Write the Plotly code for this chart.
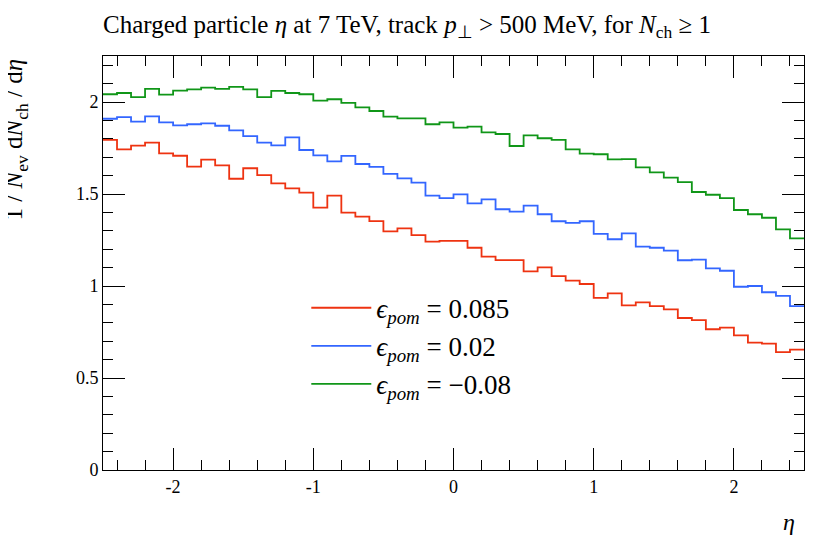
import numpy as np
import plotly.graph_objects as go

edges = np.round(np.arange(-2.5, 2.5001, 0.1), 2)

red = [1.794, 1.743, 1.763, 1.779, 1.721, 1.708, 1.649, 1.687, 1.656, 1.583,
       1.640, 1.603, 1.558, 1.531, 1.507, 1.426, 1.491, 1.399, 1.377, 1.353,
       1.297, 1.313, 1.277, 1.241, 1.245, 1.245, 1.208, 1.160, 1.141, 1.141,
       1.080, 1.101, 1.054, 1.029, 1.011, 0.935, 0.960, 0.895, 0.911, 0.891,
       0.873, 0.826, 0.815, 0.765, 0.774, 0.732, 0.692, 0.687, 0.641, 0.654]
blue = [1.909, 1.918, 1.893, 1.922, 1.889, 1.873, 1.879, 1.884, 1.871, 1.846,
        1.815, 1.779, 1.764, 1.808, 1.739, 1.710, 1.677, 1.707, 1.663, 1.647,
        1.609, 1.585, 1.562, 1.491, 1.478, 1.498, 1.449, 1.471, 1.417, 1.404,
        1.437, 1.390, 1.352, 1.343, 1.352, 1.283, 1.254, 1.286, 1.214, 1.208,
        1.192, 1.140, 1.143, 1.096, 1.083, 0.996, 1.000, 0.966, 0.946, 0.891]
green = [2.042, 2.049, 2.027, 2.071, 2.040, 2.062, 2.069, 2.078, 2.071, 2.082,
         2.069, 2.027, 2.060, 2.049, 2.042, 2.007, 2.015, 1.995, 1.971, 1.951,
         1.920, 1.911, 1.911, 1.879, 1.889, 1.861, 1.866, 1.835, 1.826, 1.761,
         1.819, 1.803, 1.794, 1.743, 1.719, 1.716, 1.688, 1.690, 1.645, 1.618,
         1.589, 1.565, 1.511, 1.496, 1.478, 1.413, 1.390, 1.371, 1.308, 1.259]

labels = ["<i>ϵ<sub>pom</sub></i> = 0.085",
          "<i>ϵ<sub>pom</sub></i> = 0.02",
          "<i>ϵ<sub>pom</sub></i> = −0.08"]
colors = ["#ee3311", "#3366ff", "#109618"]

fig = go.Figure()
for vals, name, col in zip([red, blue, green], labels, colors):
    fig.add_trace(go.Scatter(x=edges, y=list(vals) + [vals[-1]], mode="lines",
                             line=dict(shape="hv", color=col, width=1.8), name=name))

axis = dict(showgrid=False, zeroline=False, mirror="ticks", showline=True,
            linecolor="black", linewidth=1, ticks="inside", ticklen=22,
            tickcolor="black", tickfont=dict(size=18))
fig.update_xaxes(range=[-2.5, 2.5], tickvals=[-2, -1, 0, 1, 2],
                 ticktext=["-2", "-1", "0", "1", "2"],
                 minor=dict(ticks="inside", ticklen=10, dtick=0.2, tick0=0,
                            tickcolor="black"), **axis)
fig.update_yaxes(range=[0, 2.25], tickvals=[0, 0.5, 1, 1.5, 2],
                 ticktext=["0", "0.5", "1", "1.5", "2"],
                 minor=dict(ticks="inside", ticklen=10, dtick=0.1, tick0=0,
                            tickcolor="black"), **axis)

fig.update_layout(
    width=830, height=540, plot_bgcolor="white", paper_bgcolor="white",
    margin=dict(l=95, r=34, t=48, b=78),
    font=dict(family="Liberation Serif", color="black", size=18),
    legend=dict(x=0.29, y=0.45, xanchor="left", yanchor="top",
                bgcolor="rgba(0,0,0,0)", font=dict(size=27),
                tracegroupgap=0, itemwidth=60),
    annotations=[
        dict(text="Charged particle <i>η</i> at 7 TeV, track <i>p</i><sub>⊥</sub> &gt; 500 MeV, for <i>N</i><sub>ch</sub> ≥ 1",
             xref="paper", yref="paper", x=-0.003, y=1.03, xanchor="left", yanchor="bottom",
             showarrow=False, font=dict(size=25)),
        dict(text="<i>η</i>", xref="paper", yref="paper", x=0.99, y=-0.09,
             xanchor="right", yanchor="top", showarrow=False, font=dict(size=24)),
        dict(text="1 / <i>N</i><sub>ev</sub> d<i>N</i><sub>ch</sub> / d<i>η</i>",
             xref="paper", yref="paper", x=-0.125, y=1.0, textangle=-90,
             xanchor="center", yanchor="top", showarrow=False, font=dict(size=25)),
    ],
)

fig.write_html("out.html")
